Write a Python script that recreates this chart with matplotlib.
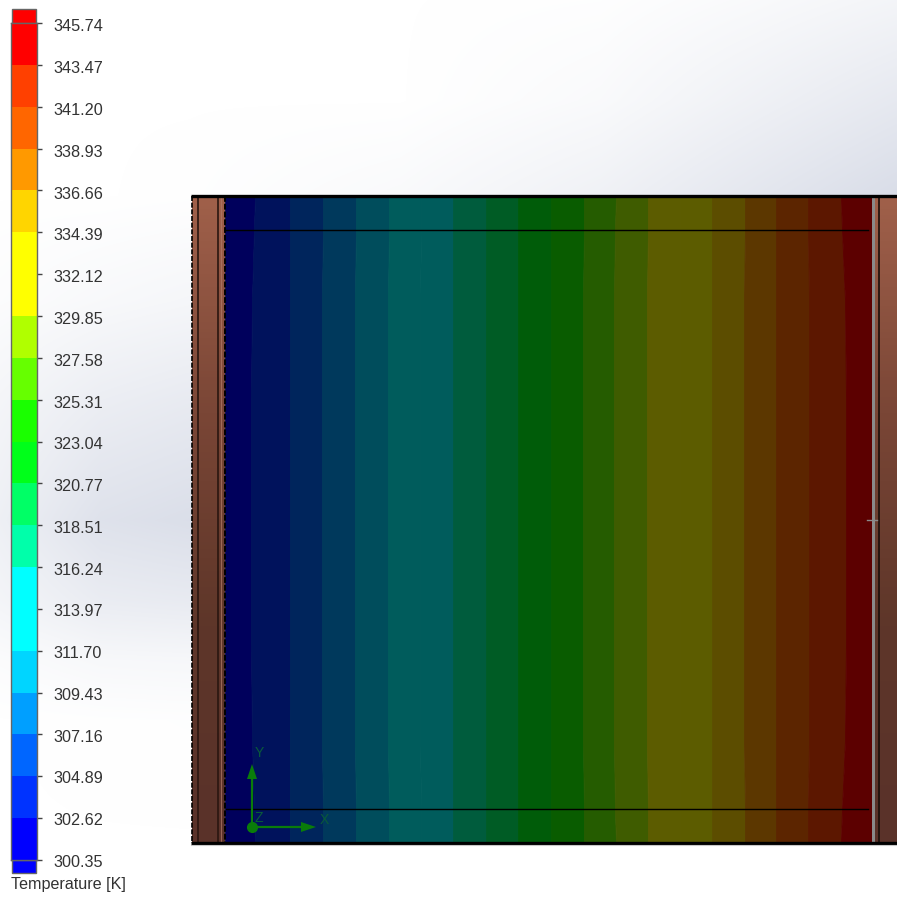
import numpy as np
import matplotlib
matplotlib.use('Agg')
import matplotlib.pyplot as plt
from matplotlib.patches import Rectangle
from matplotlib.colors import LinearSegmentedColormap, to_rgb
from matplotlib.transforms import ScaledTranslation

W, H = 897, 897
plt.rcParams['font.family'] = ['Liberation Sans', 'DejaVu Sans']

# Colour scale, bottom to top
tick_values = [300.35, 302.62, 304.89, 307.16, 309.43, 311.70, 313.97, 316.24,
               318.51, 320.77, 323.04, 325.31, 327.58, 329.85, 332.12, 334.39,
               336.66, 338.93, 341.20, 343.47, 345.74]
tick_labels = ['%.2f' % v for v in tick_values]
band_colors = ['#0000ff', '#0033ff', '#0066ff', '#009fff', '#00d5ff', '#00ffff',
               '#00ffff', '#00ffaa', '#00ff66', '#00ff1a', '#1aff00', '#66ff00',
               '#b0ff00', '#ffff00', '#ffff00', '#ffd500', '#ff9900', '#ff6600',
               '#ff4000', '#ff0000']
unit_label = 'Temperature [K]'

# Isotherm positions (image px) read at a few heights through the section
row_y = [197, 230, 300, 400, 520, 640, 740, 810, 842]
edge_first = [225, 225, 225, 225, 225, 225, 225, 225, 225]
edge_1 = [255, 254, 252, 251, 251, 251, 252, 254, 255]
edge_2 = [290, 290, 290, 290, 290, 290, 290, 290, 290]
edge_3 = [323, 323, 322, 322, 322, 322, 322, 323, 323]
edge_4 = [356, 356, 355, 355, 355, 355, 355, 356, 356]
edge_5 = [389, 389, 388, 388, 388, 388, 388, 389, 389]
edge_6 = [421, 421, 420, 420, 420, 420, 420, 421, 421]
edge_7 = [453, 453, 453, 453, 453, 453, 453, 453, 453]
edge_8 = [486, 486, 486, 486, 486, 486, 486, 486, 486]
edge_9 = [518, 518, 518, 518, 518, 518, 518, 518, 518]
edge_10 = [551, 551, 551, 551, 551, 551, 551, 551, 551]
edge_11 = [584, 584, 583, 583, 583, 583, 583, 584, 584]
edge_12 = [616, 615, 614, 614, 614, 614, 614, 615, 616]
edge_13 = [648, 648, 647, 647, 647, 647, 647, 648, 648]
edge_14 = [680, 680, 680, 680, 680, 680, 680, 680, 680]
edge_15 = [712, 712, 712, 712, 712, 712, 712, 712, 712]
edge_16 = [745, 745, 744, 744, 744, 744, 744, 745, 745]
edge_17 = [776, 776, 776, 776, 776, 776, 776, 776, 776]
edge_18 = [808, 808, 809, 809, 809, 809, 809, 808, 808]
edge_19 = [841, 842, 845, 846, 846, 846, 845, 842, 841]
edge_last = [872, 872, 872, 872, 872, 872, 872, 872, 872]
all_edges = [edge_first, edge_1, edge_2, edge_3, edge_4, edge_5, edge_6, edge_7,
             edge_8, edge_9, edge_10, edge_11, edge_12, edge_13, edge_14, edge_15,
             edge_16, edge_17, edge_18, edge_19, edge_last]

# Backdrop tint, 0 = white, 1 = grey blue, sampled by eye
bg_x = [0, 100, 190, 400, 600, 750, 897]
bg_y = [0, 100, 195, 300, 400, 520, 600, 660, 720, 845, 897]
bg_tint = [[0, 0, 0, 0, 0.03, 0.15, 0.30],
           [0, 0, 0, 0, 0.15, 0.40, 0.65],
           [0, 0, 0.02, 0.15, 0.40, 0.70, 1.0],
           [0.08, 0.18, 0.25, 0.40, 0.60, 0.80, 1.0],
           [0.28, 0.50, 0.60, 0.60, 0.60, 0.60, 0.6],
           [0.45, 0.85, 0.95, 0.60, 0.40, 0.40, 0.4],
           [0.30, 0.55, 0.60, 0.40, 0.30, 0.20, 0.2],
           [0.10, 0.20, 0.22, 0.20, 0.10, 0.10, 0.1],
           [0, 0.02, 0.03, 0.03, 0.03, 0.03, 0.03],
           [0, 0, 0, 0, 0, 0, 0],
           [0, 0, 0, 0, 0, 0, 0]]

fig = plt.figure(figsize=(W / 100, H / 100), dpi=100)
ax = fig.add_axes([0, 0, 1, 1])
ax.set_xlim(0, W)
ax.set_ylim(H, 0)
ax.axis('off')

# backdrop
cm_bg = LinearSegmentedColormap.from_list('bg', ['#ffffff', '#d9dde8'])
yy = np.arange(H)
xx = np.arange(W)
tint = np.array([np.interp(xx, bg_x, row) for row in bg_tint])
tint = np.array([np.interp(yy, bg_y, tint[:, j]) for j in range(W)]).T
ax.imshow(tint, extent=(0, W, H, 0), cmap=cm_bg, vmin=0, vmax=1, aspect='auto', zorder=0)

# section bands, same scale as the legend but darkened
for i, col in enumerate(band_colors):
    dark = tuple(c * 0.36 for c in to_rgb(col))
    ax.fill_betweenx(row_y, all_edges[i], all_edges[i + 1], facecolor=dark, edgecolor=dark,
                     lw=0.6, zorder=1)

# copper walls
cm_wall = LinearSegmentedColormap.from_list('wall', ['#a0604a', '#7a4636', '#5e3629', '#5a3229'])
grad = np.linspace(0, 1, 200).reshape(-1, 1)
ax.imshow(grad, extent=(192, 225, 843, 196), cmap=cm_wall, aspect='auto', zorder=2)
ax.imshow(grad, extent=(874, 897, 843, 196), cmap=cm_wall, aspect='auto', zorder=2)
ax.plot([198, 198], [196, 843], color='#2a1610', lw=1.2, zorder=3)
ax.plot([217.5, 217.5], [196, 843], color='#2a1610', lw=1.2, zorder=3)
ax.plot([220.5, 220.5], [196, 843], color='#b07a68', lw=0.8, alpha=0.7, zorder=3)
ax.plot([192, 192], [196, 843], color='black', lw=1.2, ls=(0, (3, 1)), zorder=3)
ax.plot([224.5, 224.5], [196, 843], color='black', lw=1.4, ls=(0, (3, 1)), zorder=3)

# right wall strip
ax.add_patch(Rectangle((871.5, 196), 3, 647, color='#8a8a8a', lw=0, zorder=3))
ax.plot([879, 879], [196, 843], color='#1a0e0a', lw=1.2, zorder=3)
ax.plot([867, 877], [520, 520], color='#8a8a8a', lw=1.0, zorder=4)

# outlines
ax.plot([191, W], [196, 196], color='black', lw=2.4, zorder=4, solid_capstyle='butt')
ax.plot([191, W], [843, 843], color='black', lw=2.4, zorder=4, solid_capstyle='butt')
ax.plot([191, W], [844.8, 844.8], color='#c8c8c8', lw=0.8, zorder=4)
ax.plot([226, 868], [230, 230], color='black', lw=1.0, zorder=4)
ax.plot([226, 868], [809, 809], color='black', lw=1.0, zorder=4)

# triad
green = '#0a7d0a'
ax.plot([252, 252], [827, 775], color=green, lw=1.6, zorder=5)
ax.plot([252, 305], [827, 827], color=green, lw=1.6, zorder=5)
ax.fill([252, 247, 257], [764, 779, 779], color=green, lw=0, zorder=5)
ax.fill([316, 301, 301], [827, 822, 832], color=green, lw=0, zorder=5)
ax.plot([252], [827], 'o', color=green, ms=7, zorder=6)
ax.text(259, 753, 'Y', color='#0a5a3a', fontsize=10, ha='center', va='center', zorder=6)
ax.text(324, 820, 'X', color='#0a5a3a', fontsize=10, ha='center', va='center', zorder=6)
ax.text(259, 818, 'Z', color='#0a5a3a', fontsize=10, ha='center', va='center', zorder=6)

# legend end caps
ax.add_patch(Rectangle((12, 9.5), 24, 13.5, fc=band_colors[-1], ec='#666666', lw=1, zorder=3))
ax.add_patch(Rectangle((12, 860), 24, 13, fc=band_colors[0], ec='#666666', lw=1, zorder=3))
ax.text(11, 885, unit_label, color='#333333', fontsize=11.6, ha='left', va='center')

# legend body on its own axes, in temperature units
cax = fig.add_axes([11 / W, (H - 860) / H, 26 / W, 837 / H])
cax.set_xlim(0, 1)
cax.set_ylim(tick_values[0], tick_values[-1])
for i, col in enumerate(band_colors):
    cax.bar(0.5, tick_values[i + 1] - tick_values[i], bottom=tick_values[i], width=1,
            color=col, lw=0)
cax.set_xticks([])
cax.yaxis.tick_right()
cax.set_yticks(tick_values)
cax.set_yticklabels(tick_labels)
cax.tick_params(axis='y', length=3.5, width=1, color='#444444', labelcolor='#333333',
                labelsize=11.7, pad=8)
# labels sit a pixel or two under the tick marks
for i, lab in enumerate(cax.get_yticklabels()):
    drop = (1.0 + 1.5 * i / 19) if i < 20 else 1.5
    lab.set_transform(lab.get_transform() + ScaledTranslation(0, -drop / 100, fig.dpi_scale_trans))
for s in cax.spines.values():
    s.set_color('#666666')
    s.set_linewidth(1)

fig.savefig('out.png', dpi=100)
